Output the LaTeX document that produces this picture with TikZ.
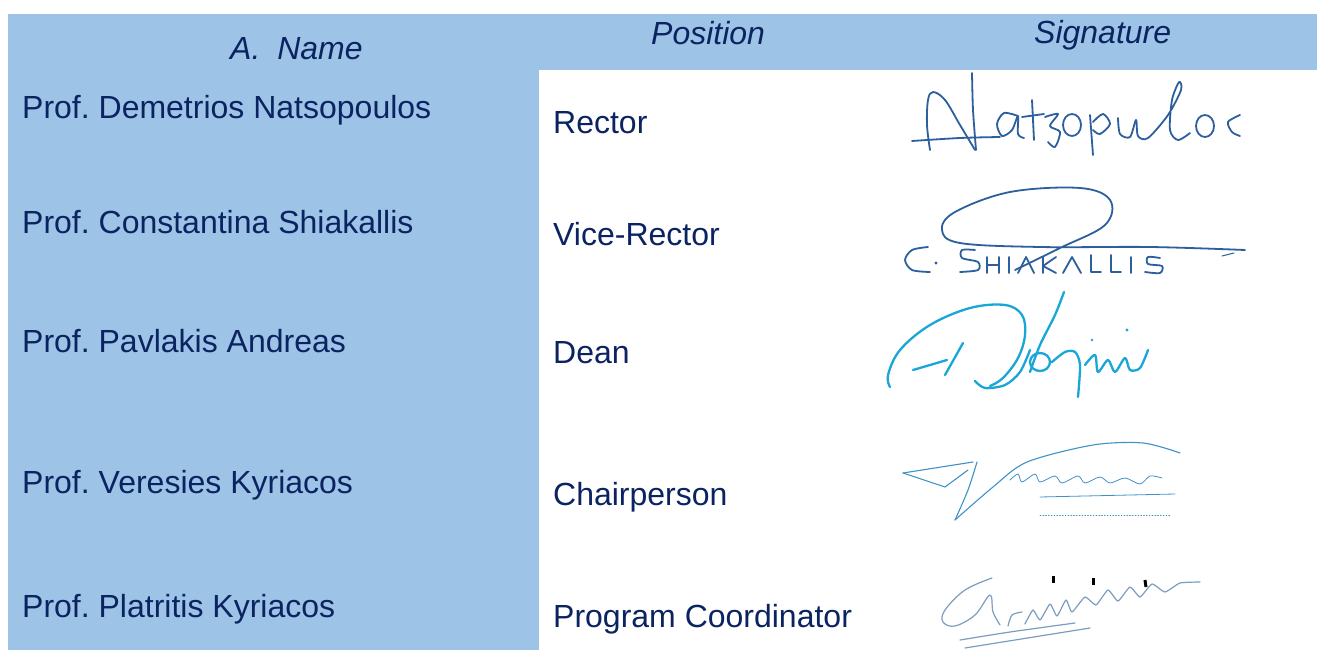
\documentclass[tikz,border=0pt]{standalone}
\usepackage{fontspec}
\setmainfont{Liberation Sans}
\frenchspacing
\definecolor{bandblue}{HTML}{9DC3E6}
\definecolor{navy}{HTML}{0B2461}
\definecolor{inkA}{HTML}{2D5F9E}
\definecolor{inkB}{HTML}{1AA7D8}
\definecolor{inkC}{HTML}{3E92C8}
\definecolor{inkD}{HTML}{7C9CC0}
\tikzset{
  txt/.style={inner sep=0pt, text=navy, font=\fontsize{32}{38}\selectfont\frenchspacing},
  hdr/.style={txt, font=\fontsize{32}{38}\selectfont\itshape\frenchspacing},
  ink/.style={line width=1.8pt, line cap=round, line join=round},
}
\begin{document}
\begin{tikzpicture}[x=1pt,y=-1pt]
\useasboundingbox (0,0) rectangle (1317,650);
\fill[white] (0,0) rectangle (1317,650);
% blue frame: header band and name column
\fill[bandblue] (8,14) rectangle (1317,70);
\fill[bandblue] (8,14) rectangle (539,650);
% header
\node[hdr, anchor=base west] (hname) at (230,60) {A.\hspace{8pt} Name};
\node[hdr, anchor=base west] (hpos) at (651,45) {Position};
\node[hdr, anchor=base west] (hsig) at (1034,44) {Signature};
% names
\node[txt, anchor=base west] (n1) at (22,119) {Prof. Demetrios Natsopoulos};
\node[txt, anchor=base west] (n2) at (22,233) {Prof. Constantina Shiakallis};
\node[txt, anchor=base west] (n3) at (22,352) {Prof. Pavlakis Andreas};
\node[txt, anchor=base west] (n4) at (22,493) {Prof. Veresies Kyriacos};
\node[txt, anchor=base west] (n5) at (22,617) {Prof. Platritis Kyriacos};
% positions
\node[txt, anchor=base west] (p1) at (553,134) {Rector};
\node[txt, anchor=base west] (p2) at (553,245) {Vice-Rector};
\node[txt, anchor=base west] (p3) at (553,363) {Dean};
\node[txt, anchor=base west] (p4) at (553,505) {Chairperson};
\node[txt, anchor=base west] (p5) at (553,627) {Program Coordinator};

% ---- signature 1: Natsopoulos
\begin{scope}[ink, draw=inkA]
\draw plot[smooth, tension=0.6] coordinates {(930,150) (927,125) (928,100) (933,92) (945,100) (960,125) (975,150)};
\draw plot[smooth] coordinates {(972,73) (973,110) (976,150)};
\draw plot[smooth] coordinates {(912,141) (960,138) (1000,137)};
\draw plot[smooth] coordinates {(1018,116) (1004,113) (997,124) (1002,136) (1012,130) (1018,116) (1018,134) (1024,138)};
\draw (1032,100) -- (1034,140);
\draw (1022,117) -- (1044,114);
\draw plot[smooth] coordinates {(1045,117) (1058,114) (1050,126) (1060,132) (1055,147) (1048,142)};
\draw (1072,125) ellipse [x radius=9, y radius=11];
\draw (1090,115) -- (1093,155);
\draw plot[smooth] coordinates {(1093,122) (1103,114) (1110,124) (1100,134) (1093,130)};
\draw plot[smooth] coordinates {(1118,118) (1120,134) (1130,137) (1136,120) (1138,136) (1148,138) (1168,115) (1181,90) (1179,82) (1172,100) (1170,130) (1178,140) (1190,133)};
\draw (1205,126) ellipse [x radius=9, y radius=11];
\draw plot[smooth] coordinates {(1240,115) (1228,122) (1232,132) (1240,136)};
\end{scope}

% ---- signature 2: C. Shiakallis
\begin{scope}[ink, draw=inkA]
\draw plot[smooth] coordinates {(928,247) (912,250) (905,260) (912,270) (930,272)};
\fill[inkA] (936,263) circle (1.6);
\draw plot[smooth] coordinates {(975,250) (962,250) (962,258) (978,262) (978,270) (960,272)};
\draw plot[smooth, tension=0.6] coordinates {(1015,270) (1060,248) (1105,225) (1110,200) (1080,188) (1010,192) (955,212) (942,230) (960,243) (1040,247) (1150,247) (1245,250)};
\draw (987,257) -- (987,273) (999,257) -- (999,273) (987,265) -- (999,265);
\draw (1009,257) -- (1009,273);
\draw (1018,273) -- (1026,257) -- (1034,273);
\draw (1043,257) -- (1043,273) (1056,257) -- (1043,266) -- (1056,273);
\draw (1063,273) -- (1072,257) -- (1081,273);
\draw (1091,255) -- (1091,272) -- (1101,272);
\draw (1111,255) -- (1111,272) -- (1121,272);
\draw (1131,257) -- (1131,273);
\draw plot[smooth] coordinates {(1160,258) (1148,257) (1148,264) (1162,266) (1160,273) (1145,272)};
\draw[line width=1pt] (1222,256) -- (1234,253);
\end{scope}

% ---- signature 3: Pavlakis
\begin{scope}[ink, line width=2.3pt, draw=inkB]
\draw plot[smooth, tension=0.6] coordinates {(890,387) (888,375) (900,350) (930,325) (970,308) (1005,305) (1022,315) (1025,335) (1018,358) (1003,378) (990,386)};
\draw plot[smooth] coordinates {(975,381) (985,388) (1005,385) (1020,372) (1030,350)};
\draw (913,370) -- (947,360);
\draw (963,343) -- (945,375);
\draw plot[smooth] coordinates {(1064,292) (1055,315) (1040,345) (1030,372)};
\draw (1040,362) ellipse [x radius=10, y radius=9];
\draw plot[smooth] coordinates {(1052,362) (1065,352) (1075,352) (1080,365) (1078,397)};
\draw plot[smooth] coordinates {(1085,365) (1095,355) (1098,372) (1108,360) (1115,372) (1125,358) (1130,370) (1140,368) (1148,350)};
\fill[inkB] (1127,330) circle (1.6);
\fill[inkB] (1092,340) circle (1.4);
\end{scope}

% ---- signature 4: Veresies
\begin{scope}[ink, line width=1.1pt, draw=inkC]
\draw (903,473) -- (973,462);
\draw (903,473) -- (945,487) -- (968,470);
\draw plot[smooth] coordinates {(977,462) (968,490) (955,520)};
\draw plot[smooth] coordinates {(955,520) (993,487) (1027,462) (1093,445) (1143,443) (1180,453)};
\draw[line width=0.8pt] plot[smooth] coordinates {(1010,480) (1018,474) (1022,482) (1035,474) (1040,482) (1055,476) (1062,483) (1078,476) (1085,483) (1100,477) (1110,483) (1125,478) (1140,484) (1150,476) (1162,478)};
\draw[line width=0.8pt] (1040,497) -- (1175,494);
\draw[line width=0.8pt, dotted] (1040,515) -- (1170,515);
\end{scope}

% ---- signature 5: Platritis
\begin{scope}[ink, line width=1.2pt, draw=inkD]
\draw plot[smooth, tension=0.6] coordinates {(992,578) (965,590) (945,610) (943,622) (955,626) (975,615) (990,595) (993,612) (1000,625)};
\draw plot[smooth] coordinates {(1008,626) (1012,615) (1022,612)};
\draw plot[smooth, tension=0.3] coordinates {(1025,624) (1033,610) (1040,620) (1050,604) (1057,616) (1066,600) (1072,612) (1085,597) (1096,605) (1108,590) (1118,601) (1130,587) (1140,597) (1152,584) (1165,592) (1180,583) (1200,582)};
\draw plot[smooth] coordinates {(960,640) (1010,632) (1075,623)};
\draw plot[smooth] coordinates {(965,648) (1040,636) (1090,628)};
\end{scope}
\begin{scope}[line width=3pt, draw=black]
\draw (1053,576) -- (1053,583);
\draw (1093,578) -- (1093,585);
\draw (1145,580) -- (1146,587);
\end{scope}
\end{tikzpicture}
\end{document}
